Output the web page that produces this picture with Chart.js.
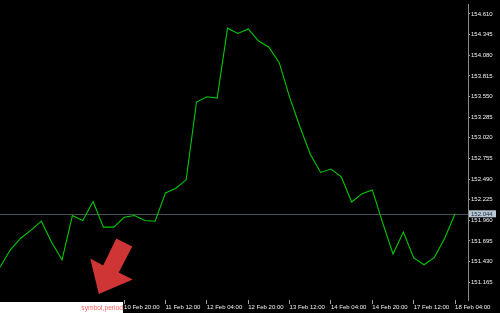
<!DOCTYPE html>
<html>
<head>
<meta charset="utf-8">
<script src="https://cdn.jsdelivr.net/npm/chart.js@4/dist/chart.umd.min.js"></script>
<style>
  html, body { margin: 0; padding: 0; background: #000; }
  #wrap { width: 500px; height: 313px; }
</style>
</head>
<body>
<div id="wrap"><canvas id="priceChart" width="500" height="313"></canvas></div>
<script>
// H4 bars, close prices
const timeLabels = [
  '6 Feb 20:00', '7 Feb 00:00', '7 Feb 04:00', '7 Feb 08:00', '7 Feb 12:00', '7 Feb 16:00', '7 Feb 20:00',
  '10 Feb 00:00', '10 Feb 04:00', '10 Feb 08:00', '10 Feb 12:00', '10 Feb 16:00', '10 Feb 20:00',
  '11 Feb 00:00', '11 Feb 04:00', '11 Feb 08:00', '11 Feb 12:00', '11 Feb 16:00', '11 Feb 20:00',
  '12 Feb 00:00', '12 Feb 04:00', '12 Feb 08:00', '12 Feb 12:00', '12 Feb 16:00', '12 Feb 20:00',
  '13 Feb 00:00', '13 Feb 04:00', '13 Feb 08:00', '13 Feb 12:00', '13 Feb 16:00', '13 Feb 20:00',
  '14 Feb 00:00', '14 Feb 04:00', '14 Feb 08:00', '14 Feb 12:00', '14 Feb 16:00', '14 Feb 20:00',
  '17 Feb 00:00', '17 Feb 04:00', '17 Feb 08:00', '17 Feb 12:00', '17 Feb 16:00', '17 Feb 20:00',
  '18 Feb 00:00', '18 Feb 04:00'
];
const closePrices = [
  151.358, 151.582, 151.730, 151.835, 151.949, 151.674, 151.452,
  152.021, 151.958, 152.202, 151.873, 151.873, 151.999,
  152.021, 151.958, 151.949, 152.312, 152.372, 152.480,
  153.479, 153.546, 153.529, 154.427, 154.360, 154.418,
  154.262, 154.183, 153.984, 153.542, 153.162, 152.808,
  152.575, 152.619, 152.518, 152.195, 152.303, 152.350,
  151.927, 151.528, 151.810, 151.477, 151.389, 151.485,
  151.730, 152.044
];
const timeTicks = ['10 Feb 20:00', '11 Feb 12:00', '12 Feb 04:00', '12 Feb 20:00', '13 Feb 12:00',
                   '14 Feb 04:00', '14 Feb 20:00', '17 Feb 12:00', '18 Feb 04:00'];
const priceTicks = [151.165, 151.430, 151.695, 151.960, 152.225, 152.490, 152.755,
                    153.020, 153.285, 153.550, 153.815, 154.080, 154.345, 154.610];
const currentPrice = closePrices[closePrices.length - 1];
const symbolText = 'symbol,period';
// arrow object: tip anchored at bar index / price
const arrowAt = { x: 9.55, y: 151.013 };

const FONT = { family: 'Liberation Sans', size: 6 };

const priceLinePlugin = {
  id: 'priceLine',
  beforeDatasetsDraw(chart) {
    const { ctx, chartArea, scales } = chart;
    const y = Math.round(scales.y.getPixelForValue(currentPrice)) + 0.5;
    ctx.save();
    ctx.strokeStyle = '#4b5159';
    ctx.lineWidth = 1;
    ctx.beginPath();
    ctx.moveTo(chartArea.left, y);
    ctx.lineTo(chartArea.right, y);
    ctx.stroke();
    ctx.restore();
  },
  afterDraw(chart) {
    const { ctx, chartArea, scales } = chart;
    const y = scales.y.getPixelForValue(currentPrice);
    ctx.save();
    // price label on the axis
    ctx.fillStyle = '#b9c6d3';
    ctx.fillRect(chartArea.right + 1, y - 3.5, 27, 7);
    ctx.fillStyle = '#1c2a3c';
    ctx.font = FONT.size + 'px ' + FONT.family;
    ctx.textBaseline = 'middle';
    ctx.textAlign = 'left';
    ctx.fillText(currentPrice.toFixed(3), chartArea.right + 3, y + 0.5);

    // red arrow
    const tx = scales.x.getPixelForValue(arrowAt.x);
    const ty = scales.y.getPixelForValue(arrowAt.y);
    const shape = [[0, 0], [-8.5, -35.5], [4.4, -28.5], [17.5, -55.5], [33.5, -47.5], [20, -21.5], [34, -14.5]];
    ctx.fillStyle = '#d03535';
    ctx.beginPath();
    shape.forEach(([dx, dy], i) => {
      if (i === 0) ctx.moveTo(tx + dx, ty + dy);
      else ctx.lineTo(tx + dx, ty + dy);
    });
    ctx.closePath();
    ctx.fill();

    // symbol box over the time axis
    ctx.fillStyle = '#ffffff';
    ctx.fillRect(0, chartArea.bottom + 2, 123, 11);
    ctx.fillStyle = '#ff6060';
    ctx.font = '6.7px ' + FONT.family;
    ctx.textAlign = 'right';
    ctx.textBaseline = 'alphabetic';
    ctx.fillText(symbolText, 123, chartArea.bottom + 10);
    ctx.restore();
  }
};

const ctx = document.getElementById('priceChart');
new Chart(ctx, {
  type: 'line',
  data: {
    datasets: [{
      data: closePrices.map((v, i) => ({ x: i, y: v })),
      borderColor: '#00c800',
      borderWidth: 1.1,
      pointRadius: 0,
      tension: 0,
      fill: false
    }]
  },
  options: {
    responsive: false,
    animation: false,
    layout: { padding: 0 },
    plugins: { legend: { display: false }, tooltip: { enabled: false } },
    scales: {
      x: {
        type: 'linear',
        min: 0,
        max: 45.25,
        afterBuildTicks: s => { s.ticks = timeTicks.map(t => ({ value: timeLabels.indexOf(t) })); },
        afterFit: s => { s.height = 13; },
        ticks: {
          callback: v => timeLabels[v],
          align: 'start',
          autoSkip: false,
          maxRotation: 0,
          color: '#f0f0f0',
          font: FONT,
          padding: 0
        },
        grid: { drawOnChartArea: false, tickLength: 4, color: '#a0a0a0' },
        border: { display: false }
      },
      y: {
        position: 'right',
        min: 150.937,
        max: 154.730,
        afterBuildTicks: s => { s.ticks = priceTicks.map(v => ({ value: v })); },
        afterFit: s => { s.width = 32; },
        ticks: {
          callback: v => v.toFixed(3),
          color: '#f0f0f0',
          font: FONT,
          padding: 1
        },
        grid: { drawOnChartArea: false, tickLength: 2, color: '#a0a0a0' },
        border: { display: true, color: '#8a8a8a' }
      }
    }
  },
  plugins: [priceLinePlugin]
});
</script>
</body>
</html>
